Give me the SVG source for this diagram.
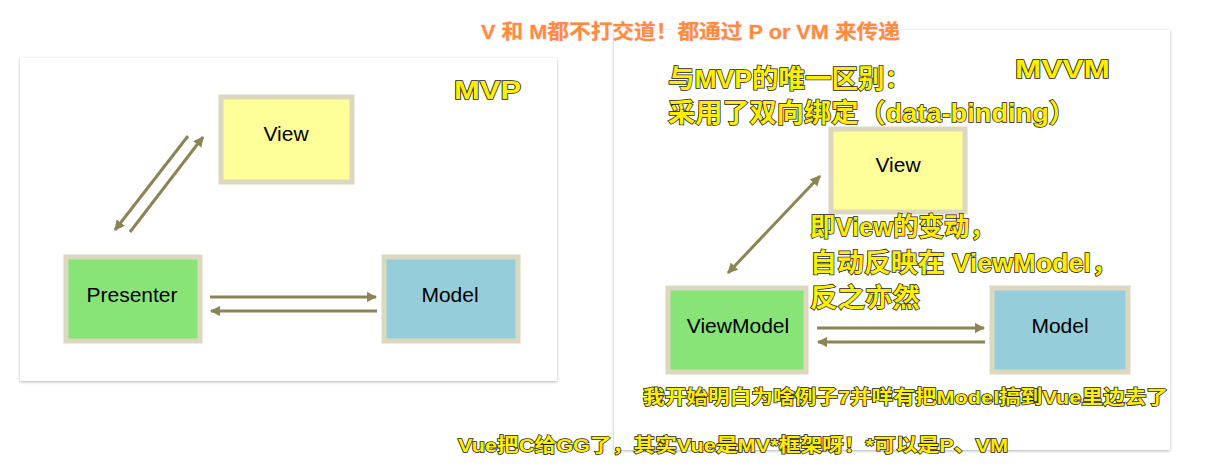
<svg xmlns="http://www.w3.org/2000/svg" width="1207" height="475" viewBox="0 0 1207 475">
<defs>
<filter id="sh" x="-5%" y="-5%" width="110%" height="110%"><feDropShadow dx="0" dy="1" stdDeviation="1.5" flood-color="#000" flood-opacity="0.3"/></filter>
<marker id="ah" viewBox="0 0 10 10" refX="9" refY="5" markerWidth="3.5" markerHeight="3.5" orient="auto-start-reverse"><path d="M0,0 L10,5 L0,10 z" fill="#8b8455"/></marker>
</defs>
<style>
.panel{fill:#fff;filter:url(#sh)}
.box{stroke:#dcd8c0;stroke-width:5}
.lbl{font-family:"Liberation Sans",Arial,sans-serif;font-size:21px;fill:#000;text-anchor:middle}
.c{stroke:#8b8455;stroke-width:3;fill:none}
.y{font-family:"Liberation Sans","Noto Sans CJK SC",sans-serif;font-weight:bold;fill:#ffee00;stroke:#222;stroke-width:1.5;paint-order:stroke}
.o{font-family:"Liberation Sans","Noto Sans CJK SC",sans-serif;font-weight:bold;fill:#ff8c3a;stroke:#fde;stroke-width:1;paint-order:stroke;font-size:20px}
</style>
<rect class="panel" x="20" y="58" width="537" height="323"/>
<rect class="panel" x="614" y="30" width="556" height="420"/>
<g id="connectors">
<line class="c" x1="188" y1="136" x2="115" y2="230" marker-end="url(#ah)"/>
<line class="c" x1="130" y1="232" x2="203" y2="137" marker-end="url(#ah)"/>
<line class="c" x1="210" y1="297" x2="376" y2="297" marker-end="url(#ah)"/>
<line class="c" x1="377" y1="311" x2="211" y2="311" marker-end="url(#ah)"/>
<line class="c" x1="728" y1="273" x2="820" y2="176" marker-start="url(#ah)" marker-end="url(#ah)"/>
<line class="c" x1="817" y1="328" x2="984" y2="328" marker-end="url(#ah)"/>
<line class="c" x1="985" y1="342" x2="818" y2="342" marker-end="url(#ah)"/>
</g>
<g id="mvp-view"><rect class="box" x="221" y="97" width="131" height="85" fill="#ffff99"/><text class="lbl" x="286" y="141">View</text></g>
<g id="mvp-presenter"><rect class="box" x="66" y="257" width="134" height="84" fill="#88e477"/><text class="lbl" x="132" y="302">Presenter</text></g>
<g id="mvp-model"><rect class="box" x="384" y="257" width="134" height="84" fill="#95cdda"/><text class="lbl" x="450" y="302">Model</text></g>
<g id="mvvm-view"><rect class="box" x="831" y="129" width="134" height="83" fill="#ffff99"/><text class="lbl" x="898" y="172">View</text></g>
<g id="mvvm-viewmodel"><rect class="box" x="668" y="288" width="138" height="84" fill="#88e477"/><text class="lbl" x="738" y="333">ViewModel</text></g>
<g id="mvvm-model"><rect class="box" x="992" y="288" width="136" height="84" fill="#95cdda"/><text class="lbl" x="1060" y="333">Model</text></g>
<text class="o" x="481" y="39" textLength="419" lengthAdjust="spacingAndGlyphs">V 和 M都不打交道！都通过 P or VM 来传递</text>
<text class="y" x="454" y="99" font-size="26" textLength="67" lengthAdjust="spacingAndGlyphs">MVP</text>
<text class="y" x="1015" y="78" font-size="26" textLength="95" lengthAdjust="spacingAndGlyphs">MVVM</text>
<text class="y" x="668" y="88" font-size="26" textLength="243" lengthAdjust="spacingAndGlyphs">与MVP的唯一区别：</text>
<text class="y" x="668" y="122" font-size="26" textLength="408" lengthAdjust="spacingAndGlyphs">采用了双向绑定（data-binding）</text>
<text class="y" x="810" y="236" font-size="26" textLength="185" lengthAdjust="spacingAndGlyphs">即View的变动，</text>
<text class="y" x="810" y="272" font-size="26" textLength="308" lengthAdjust="spacingAndGlyphs">自动反映在 ViewModel，</text>
<text class="y" x="810" y="307" font-size="26" textLength="110" lengthAdjust="spacingAndGlyphs">反之亦然</text>
<text class="y" x="643" y="404" font-size="19" textLength="525" lengthAdjust="spacingAndGlyphs">我开始明白为啥例子7并咩有把Model搞到Vue里边去了</text>
<text class="y" x="458" y="452" font-size="19" textLength="550" lengthAdjust="spacingAndGlyphs">Vue把C给GG了，其实Vue是MV*框架呀！*可以是P、VM</text>
</svg>
